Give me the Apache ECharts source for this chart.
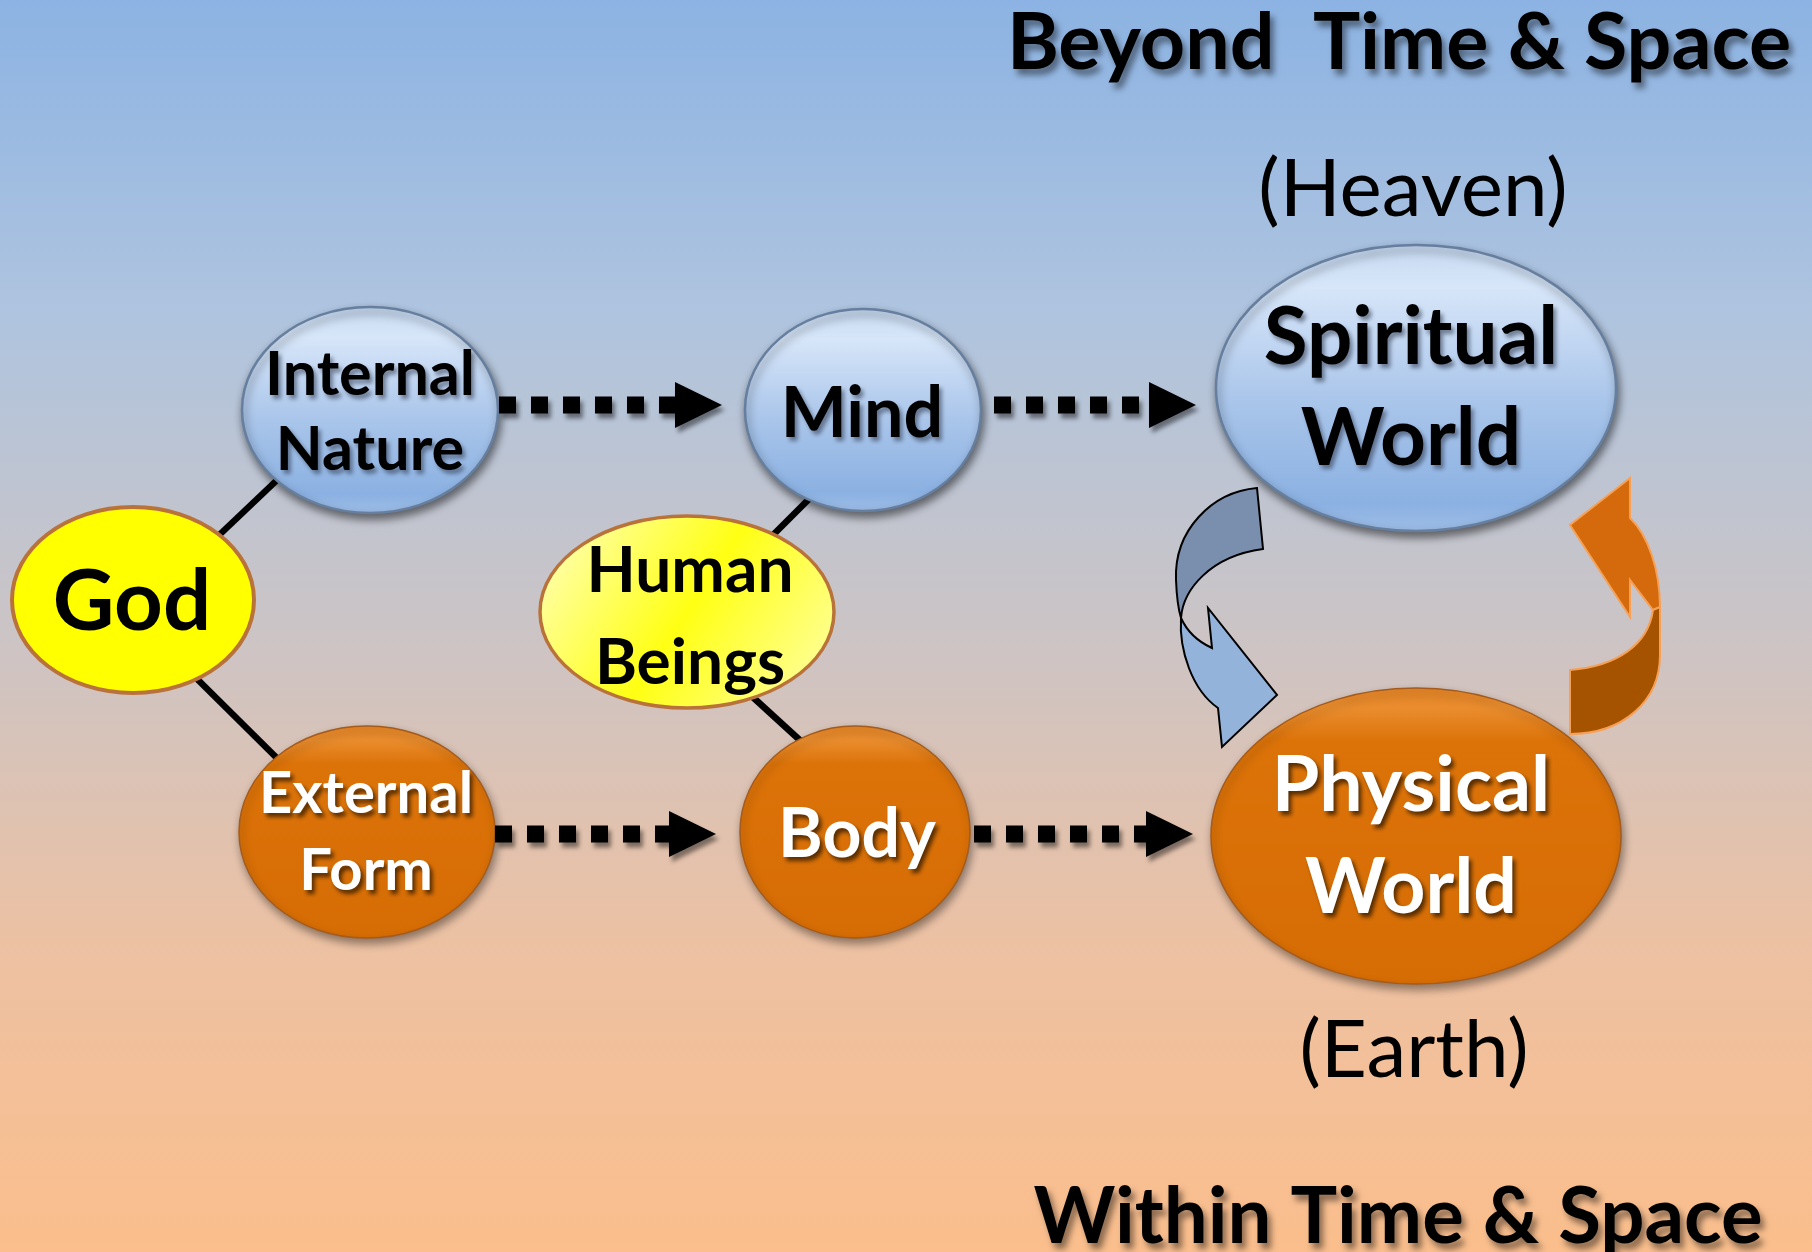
<!DOCTYPE html>
<html><head><meta charset="utf-8">
<script src="https://cdn.jsdelivr.net/npm/echarts@6/dist/echarts.min.js"></script>
<style>html,body{margin:0;padding:0;overflow:hidden}#c{width:1812px;height:1252px}</style>
</head><body><div id="c"></div><script>
// ---- diagram content ----
const nodeLabels = ['God', 'Internal\nNature', 'External\nForm', 'Human\nBeings', 'Mind', 'Body', 'Spiritual\nWorld', 'Physical\nWorld'];
const nodeKinds  = ['god', 'inner', 'outer', 'human', 'inner', 'outer', 'inner', 'outer'];
// node layout in the 1812 x 1252 diagram frame
const nodeCX = [133, 370, 367, 687, 863, 855, 1416, 1416];
const nodeCY = [600, 410, 832, 612, 410, 832, 388, 836];
const nodeRX = [121, 128, 128, 147, 118, 115, 200, 205];
const nodeRY = [93, 103, 106, 96, 101, 106, 143, 148];
const labelCX = [132, 370, 366, 690, 862, 857, 1411, 1411];
const labelCY = [603, 413, 833, 617, 414, 835, 389, 837];
const labelSize = [85, 61, 58, 64, 70, 68, 80, 77];
const labelGap = [0, 75, 77, 92, 0, 0, 101, 102];

// solid links (God -> Internal/External, Human -> Mind/Body)
const linkFrom = [0, 0, 3, 3];
const linkTo   = [1, 2, 4, 5];
const linkSegs = [[195, 558, 295, 463], [185, 667, 295, 776], [760, 548, 820, 488], [745, 690, 815, 754]];

// dotted flow arrows [x start, x tip, y]
const flowSegs = [[499, 722, 405], [994, 1196, 405], [495, 716, 834], [974, 1193, 834]];

// circular exchange arrows between Spiritual and Physical world
const cycleShapes = [
  [['M',1257,488],['C',1212,492,1174,530,1176,580],['Q',1177,605,1181,618],['C',1183,590,1210,556,1263,549],['Z']],
  [['M',1181,618],['C',1179,650,1192,690,1218,708],['L',1222,747],['L',1277,695],['L',1208,608],['L',1212,648],['Q',1190,638,1181,618],['Z']],
  [['M',1630,478],['L',1630,518],['C',1648,535,1660,570,1660,607],['L',1653,610],['L',1630,580],['L',1630,617],['L',1570,525],['Z']],
  [['M',1660,607],['L',1660,655],['C',1660,702,1622,734,1570,734],['L',1570,670],['C',1617,666,1648,645,1653,610],['Z']]
];
const cycleKinds = ['blueDark', 'blueLight', 'orangeLight', 'orangeDark'];

// captions
const captionTexts = ['Beyond  Time & Space', '(Heaven)', '(Earth)', 'Within Time & Space'];
const captionX = [1399, 1413, 1414, 1398];
const captionY = [44, 190, 1051, 1218];
const captionSize = [79, 80, 80, 78];
const captionBold = [true, false, false, true];

// ---- styles ----
const LG = echarts.graphic.LinearGradient;
const nodeStyle = {
  inner: () => ({
    fill: new LG(0, 0, 0, 1, [
      {offset: 0, color: '#c6d9f1'}, {offset: 0.15, color: '#d7e6f9'},
      {offset: 0.55, color: '#a9c5ea'}, {offset: 0.9, color: '#8bb1e2'}, {offset: 1, color: '#9dbde6'}]),
    stroke: '#667f9f', lineWidth: 2.5,
    shadowBlur: 8, shadowOffsetX: 2, shadowOffsetY: 5, shadowColor: 'rgba(0,0,0,0.5)'
  }),
  outer: () => ({
    fill: new LG(0, 0, 0, 1, [
      {offset: 0, color: '#e58426'}, {offset: 0.07, color: '#ea8d2e'},
      {offset: 0.18, color: '#dc7309'}, {offset: 1, color: '#d66c04'}]),
    stroke: '#a45b1c', lineWidth: 1.5,
    shadowBlur: 8, shadowOffsetX: 2, shadowOffsetY: 5, shadowColor: 'rgba(0,0,0,0.4)'
  }),
  god: () => ({fill: '#ffff00', stroke: '#b9733a', lineWidth: 4}),
  human: () => ({
    fill: new LG(0, 0, 1, 1, [
      {offset: 0, color: '#ffffc8'}, {offset: 0.5, color: '#ffff14'}, {offset: 1, color: '#ffffb0'}]),
    stroke: '#b9733a', lineWidth: 3.5
  })
};
const cycleStyle = {
  blueDark: {fill: '#7a8fad', stroke: '#000', lineWidth: 2},
  blueLight: {fill: '#94b3da', stroke: '#000', lineWidth: 2},
  orangeLight: {fill: '#d46a0b', stroke: '#f5a058', lineWidth: 2},
  orangeDark: {fill: '#a65300', stroke: '#f5a058', lineWidth: 2}
};

const chart = echarts.init(document.getElementById('c'));

function pt(api, x, y) { return api.coord([x, y]); }

function shapePath(api, cmds) {
  let d = '';
  cmds.forEach(c => {
    if (c[0] === 'Z') { d += 'Z '; return; }
    d += c[0];
    for (let k = 1; k < c.length; k += 2) {
      const p = pt(api, c[k], c[k + 1]);
      d += ' ' + p[0].toFixed(1) + ' ' + p[1].toFixed(1);
    }
    d += ' ';
  });
  return d;
}

const option = {
  backgroundColor: new LG(0, 0, 0, 1, [
    {offset: 0, color: '#8cb3e3'}, {offset: 0.25, color: '#afc4df'},
    {offset: 0.5, color: '#cbc4c6'}, {offset: 0.75, color: '#ecc1a3'}, {offset: 1, color: '#fbbe8c'}]),
  animation: false,
  grid: {left: 0, right: 0, top: 0, bottom: 0},
  xAxis: {type: 'value', min: 0, max: 1812, show: false},
  yAxis: {type: 'value', min: 0, max: 1252, inverse: true, show: false},
  series: [
    {
      type: 'custom', name: 'links', silent: true,
      data: linkFrom.map((f, i) => [f, linkTo[i]]),
      renderItem: (params, api) => {
        const s = linkSegs[params.dataIndex];
        const a = pt(api, s[0], s[1]), b = pt(api, s[2], s[3]);
        return {type: 'line', shape: {x1: a[0], y1: a[1], x2: b[0], y2: b[1]},
          style: {stroke: '#000', lineWidth: 6.5}};
      }
    },
    {
      type: 'custom', name: 'nodes', silent: true,
      data: nodeLabels.map((n, i) => [nodeCX[i], nodeCY[i]]),
      renderItem: (params, api) => {
        const i = params.dataIndex;
        const c = pt(api, nodeCX[i], nodeCY[i]);
        const s = api.size([nodeRX[i], nodeRY[i]]);
        const lc = pt(api, labelCX[i], labelCY[i]);
        const kind = nodeKinds[i];
        const white = kind === 'outer';
        const shadowed = kind === 'outer' || kind === 'inner';
        const ts = {
          text: nodeLabels[i], x: lc[0], y: lc[1], align: 'center', verticalAlign: 'middle',
          font: 'bold ' + labelSize[i] + 'px Lato', fill: white ? '#fff' : '#000'
        };
        if (labelGap[i]) ts.lineHeight = labelGap[i];
        if (shadowed) {
          ts.textShadowBlur = 4; ts.textShadowOffsetX = 3; ts.textShadowOffsetY = 4;
          ts.textShadowColor = white ? 'rgba(40,20,0,0.75)' : 'rgba(40,50,70,0.55)';
        }
        return {type: 'group', children: [
          {type: 'ellipse', shape: {cx: c[0], cy: c[1], rx: s[0], ry: s[1]}, style: nodeStyle[kind]()},
          {type: 'text', style: ts}
        ]};
      }
    },
    {
      type: 'custom', name: 'flows', silent: true,
      data: flowSegs.map(f => [f[0], f[2]]),
      renderItem: (params, api) => {
        const f = flowSegs[params.dataIndex];
        const a = pt(api, f[0], f[2]);
        const tip = pt(api, f[1], f[2]);
        const base = tip[0] - 47;
        const sh = {shadowBlur: 4, shadowOffsetX: 3, shadowOffsetY: 5, shadowColor: 'rgba(0,0,0,0.45)'};
        return {type: 'group', children: [
          {type: 'line', shape: {x1: a[0], y1: a[1], x2: base + 1, y2: a[1]},
            style: Object.assign({stroke: '#000', lineWidth: 17, lineDash: [17, 15], lineCap: 'butt'}, sh)},
          {type: 'polygon', shape: {points: [[base, tip[1] - 23], [tip[0], tip[1]], [base, tip[1] + 23]]},
            style: Object.assign({fill: '#000'}, sh)}
        ]};
      }
    },
    {
      type: 'custom', name: 'cycle', silent: true,
      data: cycleShapes.map((s, i) => [i, 0]),
      renderItem: (params, api) => {
        const i = params.dataIndex;
        return {type: 'path', shape: {pathData: shapePath(api, cycleShapes[i])},
          style: Object.assign({lineJoin: 'miter'}, cycleStyle[cycleKinds[i]])};
      }
    },
    {
      type: 'custom', name: 'captions', silent: true,
      data: captionTexts.map((t, i) => [captionX[i], captionY[i]]),
      renderItem: (params, api) => {
        const i = params.dataIndex;
        const p = pt(api, captionX[i], captionY[i]);
        const st = {
          text: captionTexts[i], x: p[0], y: p[1], align: 'center', verticalAlign: 'middle',
          font: (captionBold[i] ? 'bold ' : '') + captionSize[i] + 'px Lato', fill: '#000'
        };
        if (captionBold[i]) {
          st.textShadowBlur = 6; st.textShadowOffsetX = 4; st.textShadowOffsetY = 6;
          st.textShadowColor = 'rgba(0,0,0,0.45)';
        }
        return {type: 'text', style: st};
      }
    }
  ]
};
chart.setOption(option);
</script></body></html>
